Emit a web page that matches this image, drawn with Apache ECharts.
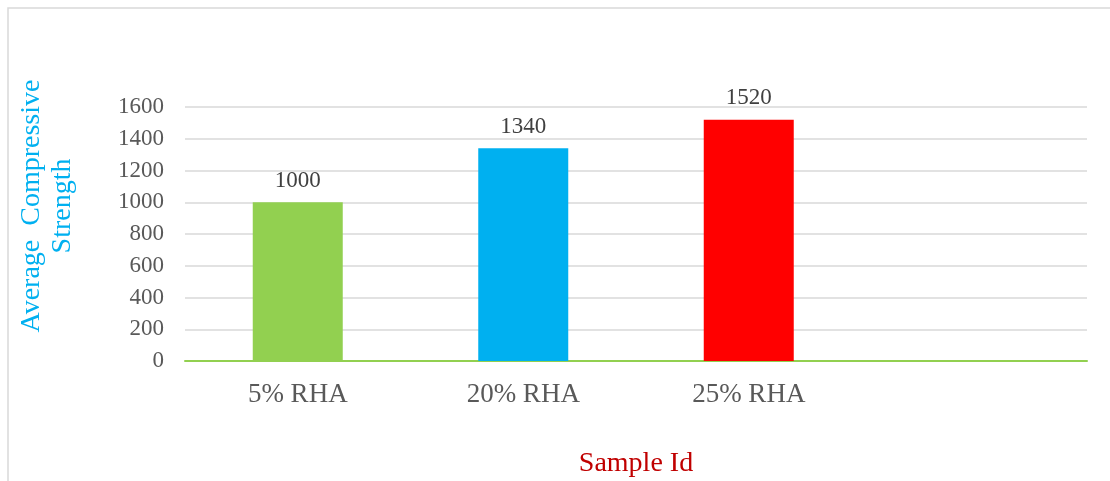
<!DOCTYPE html>
<html>
<head>
<meta charset="utf-8">
<script src="https://cdn.jsdelivr.net/npm/echarts@6/dist/echarts.min.js"></script>
<style>
  html, body { margin: 0; padding: 0; background: #fff; }
  #chart { width: 1110px; height: 481px; }
</style>
</head>
<body>
<div id="chart"></div>
<script>
// Sample groups (the last slot is left empty on purpose)
const categories = ['5% RHA', '20% RHA', '25% RHA', ''];
const strengthValues = [1000, 1340, 1520, null];
const barColors = ['#92D050', '#00B0F0', '#FF0000', '#FFFFFF'];
const yTicks = { min: 0, max: 1600, interval: 200 };

const serif = '"Liberation Serif", "DejaVu Serif", serif';

const chart = echarts.init(document.getElementById('chart'));
chart.setOption({
  animation: false,
  backgroundColor: '#fff',
  grid: { left: 185, right: 23, top: 107, bottom: 120, containLabel: false, outerBoundsMode: 'none' },
  graphic: [
    {
      type: 'rect',
      shape: { x: 8, y: 8, width: 1200, height: 600 },
      style: { fill: 'none', stroke: '#D9D9D9', lineWidth: 1.5 },
      silent: true
    },
    {
      type: 'text',
      x: 47,
      y: 206,
      rotation: Math.PI / 2,
      style: {
        text: 'Average  Compressive\nStrength',
        font: '28px ' + serif,
        fill: '#00B0F0',
        align: 'center',
        verticalAlign: 'middle',
        lineHeight: 31
      }
    }
  ],
  xAxis: {
    type: 'category',
    data: categories,
    name: 'Sample Id',
    nameLocation: 'middle',
    nameGap: 89,
    nameTextStyle: { color: '#C00000', fontFamily: serif, fontSize: 28 },
    axisLine: { show: true, lineStyle: { color: '#92D050', width: 2 } },
    axisTick: { show: false },
    axisLabel: { color: '#595959', fontFamily: serif, fontSize: 27, margin: 20 }
  },
  yAxis: {
    type: 'value',
    min: yTicks.min,
    max: yTicks.max,
    interval: yTicks.interval,
    axisLine: { show: false },
    axisTick: { show: false },
    splitLine: { lineStyle: { color: '#D9D9D9', width: 1.5 } },
    axisLabel: {
      color: '#595959', fontFamily: serif, fontSize: 23, margin: 21,
      formatter: v => String(v)
    }
  },
  series: [{
    type: 'bar',
    data: strengthValues.map((v, i) => ({ value: v, itemStyle: { color: barColors[i] } })),
    barWidth: 90,
    label: {
      show: true,
      position: 'top',
      distance: 10,
      color: '#404040',
      fontFamily: serif,
      fontSize: 23
    }
  }]
});
</script>
</body>
</html>
